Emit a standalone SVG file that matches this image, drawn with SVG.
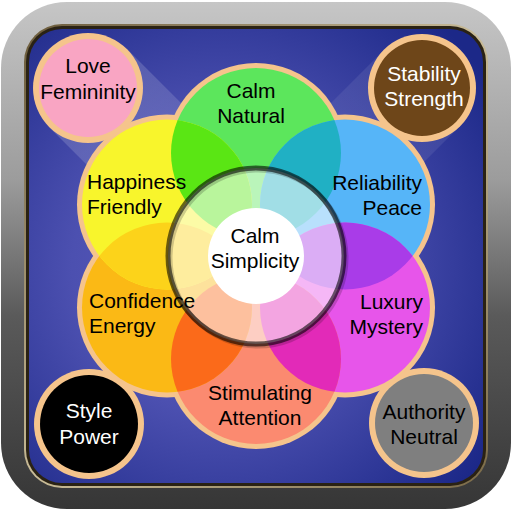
<svg xmlns="http://www.w3.org/2000/svg" width="512" height="512" viewBox="0 0 512 512">
<defs>
<linearGradient id="bezel" x1="0" y1="0" x2="0" y2="1">
<stop offset="0" stop-color="#c6c6c6"/>
<stop offset="0.35" stop-color="#9c9c9c"/>
<stop offset="0.62" stop-color="#5a5a5a"/>
<stop offset="1" stop-color="#363636"/>
</linearGradient>
<linearGradient id="rim" x1="0" y1="0" x2="1" y2="1">
<stop offset="0" stop-color="#6a5a3a"/>
<stop offset="0.5" stop-color="#c9bc98"/>
<stop offset="1" stop-color="#7a6a48"/>
</linearGradient>
<radialGradient id="panel" cx="0.42" cy="0.52" r="0.72">
<stop offset="0" stop-color="#5d5abd"/>
<stop offset="0.45" stop-color="#4c50b0"/>
<stop offset="1" stop-color="#1c2888"/>
</radialGradient>
<linearGradient id="beamTL" x1="0" y1="0" x2="1" y2="1">
<stop offset="0" stop-color="#ffffff" stop-opacity="0.2"/>
<stop offset="1" stop-color="#ffffff" stop-opacity="0.03"/>
</linearGradient>
<linearGradient id="beamTR" x1="1" y1="0" x2="0" y2="1">
<stop offset="0" stop-color="#ffffff" stop-opacity="0.1"/>
<stop offset="1" stop-color="#ffffff" stop-opacity="0.02"/>
</linearGradient>
<clipPath id="cG"><circle cx="256" cy="153" r="85"/></clipPath>
<clipPath id="cB"><circle cx="345" cy="204.5" r="85"/></clipPath>
<clipPath id="cM"><circle cx="345" cy="307.5" r="85"/></clipPath>
<clipPath id="cC"><circle cx="256" cy="359" r="85"/></clipPath>
<clipPath id="cA"><circle cx="167" cy="307.5" r="85"/></clipPath>
<clipPath id="cY"><circle cx="167" cy="204.5" r="85"/></clipPath>
</defs>
<style>
.peach{fill:#f5c48c}
.lbl{font-family:"Liberation Sans",Arial,sans-serif;font-size:21px;fill:#000}
.w{fill:#fff}
.mid{text-anchor:middle}
.end{text-anchor:end}
</style>

<!-- frame -->
<rect x="1" y="2" width="510" height="507" rx="66" fill="url(#bezel)"/>
<rect x="24" y="24" width="464" height="464" rx="38" fill="url(#rim)"/>
<rect x="26" y="26" width="460" height="460" rx="36" fill="#2a2214"/>
<rect x="29" y="29" width="454" height="454" rx="33" fill="url(#panel)"/>

<!-- light beams -->
<polygon points="127,49 49,127 200,278 278,200" fill="url(#beamTL)"/>
<polygon points="384,50 460,126 310,276 234,200" fill="url(#beamTR)"/>

<!-- outlines -->
<g id="outlines">
<circle class="peach" cx="256" cy="153" r="90"/>
<circle class="peach" cx="345" cy="204.5" r="90"/>
<circle class="peach" cx="345" cy="307.5" r="90"/>
<circle class="peach" cx="256" cy="359" r="90"/>
<circle class="peach" cx="167" cy="307.5" r="90"/>
<circle class="peach" cx="167" cy="204.5" r="90"/>
<circle class="peach" cx="88" cy="88" r="55"/>
<circle class="peach" cx="422" cy="88" r="54"/>
<circle class="peach" cx="89" cy="424" r="55"/>
<circle class="peach" cx="424" cy="423" r="55"/>
</g>

<g id="petal-green"><circle cx="256" cy="153" r="85" fill="#5ce65c"/></g>
<g id="petal-blue"><circle cx="345" cy="204.5" r="85" fill="#56b5f8"/></g>
<g id="petal-magenta"><circle cx="345" cy="307.5" r="85" fill="#e755ea"/></g>
<g id="petal-coral"><circle cx="256" cy="359" r="85" fill="#fb8a70"/></g>
<g id="petal-amber"><circle cx="167" cy="307.5" r="85" fill="#fbb915"/></g>
<g id="petal-yellow"><circle cx="167" cy="204.5" r="85" fill="#f8f52c"/></g>

<g id="lenses">
<circle cx="167" cy="204.5" r="85" fill="#5ae614" clip-path="url(#cG)"/>
<circle cx="345" cy="204.5" r="85" fill="#20b0c4" clip-path="url(#cG)"/>
<circle cx="345" cy="307.5" r="85" fill="#a93ce8" clip-path="url(#cB)"/>
<circle cx="256" cy="359" r="85" fill="#e22ab8" clip-path="url(#cM)"/>
<circle cx="167" cy="307.5" r="85" fill="#fb6a1a" clip-path="url(#cC)"/>
<circle cx="167" cy="204.5" r="85" fill="#fcd31a" clip-path="url(#cA)"/>
</g>

<!-- center -->
<g id="center">
<circle cx="256" cy="256" r="88" fill="#ffffff" fill-opacity="0.58"/>
<circle cx="258" cy="258" r="88" fill="none" stroke="#000" stroke-opacity="0.18" stroke-width="5"/>
<circle cx="256" cy="256" r="88" fill="none" stroke="#000" stroke-opacity="0.58" stroke-width="5"/>
<circle cx="256" cy="256" r="48" fill="#ffffff"/>
<text class="lbl mid" x="255" y="243">Calm</text>
<text class="lbl mid" x="255" y="268">Simplicity</text>
</g>

<g id="small-pink"><circle cx="88" cy="88" r="49" fill="#f9a5c3"/>
<text class="lbl mid" x="88" y="73">Love</text><text class="lbl mid" x="88" y="99">Femininity</text></g>
<g id="small-brown"><circle cx="422" cy="88" r="48" fill="#6e4619"/>
<text class="lbl mid w" x="424" y="81">Stability</text><text class="lbl mid w" x="424" y="106">Strength</text></g>
<g id="small-black"><circle cx="89" cy="424" r="49" fill="#000"/>
<text class="lbl mid w" x="89" y="418">Style</text><text class="lbl mid w" x="89" y="444">Power</text></g>
<g id="small-gray"><circle cx="424" cy="423" r="49" fill="#7f7f7f"/>
<text class="lbl mid" x="424" y="419">Authority</text><text class="lbl mid" x="424" y="444">Neutral</text></g>

<g id="labels">
<text class="lbl mid" x="251" y="98">Calm</text>
<text class="lbl mid" x="251" y="123">Natural</text>
<text class="lbl" x="87" y="189">Happiness</text>
<text class="lbl" x="87" y="214">Friendly</text>
<text class="lbl end" x="422" y="190">Reliability</text>
<text class="lbl end" x="422" y="215">Peace</text>
<text class="lbl" x="89" y="308">Confidence</text>
<text class="lbl" x="89" y="333">Energy</text>
<text class="lbl end" x="423" y="309">Luxury</text>
<text class="lbl end" x="423" y="334">Mystery</text>
<text class="lbl mid" x="260" y="400">Stimulating</text>
<text class="lbl mid" x="260" y="425">Attention</text>
</g>
</svg>
